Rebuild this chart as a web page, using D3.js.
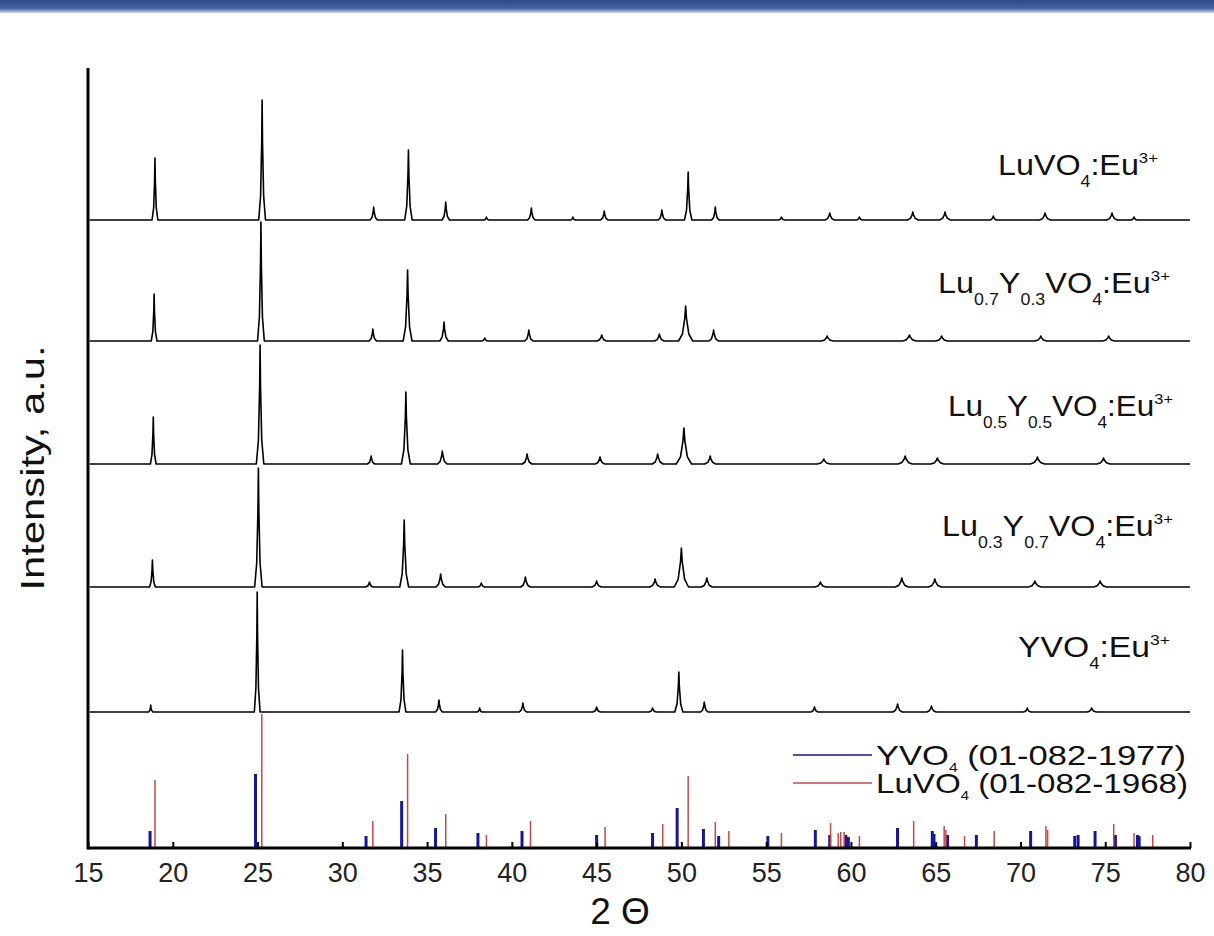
<!DOCTYPE html>
<html>
<head>
<meta charset="utf-8">
<script src="https://cdn.jsdelivr.net/npm/d3@7/dist/d3.min.js"></script>
<style>
  html, body { margin: 0; padding: 0; background: #fff; }
  svg { display: block; font-family: "Liberation Sans", Arial, sans-serif; }
</style>
</head>
<body>
<svg id="chart" width="1214" height="936"></svg>
<script>
// ---------------- data ----------------
const xTicks = [15, 20, 25, 30, 35, 40, 45, 50, 55, 60, 65, 70, 75, 80];
const xLabel = "2 \u0398";
const yLabel = "Intensity, a.u.";

// sample names (parts: [text, kind]) kind: n normal, sub, sup
const sampleLabels = [
  [["LuVO", "n"], ["4", "sub"], [":Eu", "n"], ["3+", "sup"]],
  [["Lu", "n"], ["0.7", "sub"], ["Y", "n"], ["0.3", "sub"], ["VO", "n"], ["4", "sub"], [":Eu", "n"], ["3+", "sup"]],
  [["Lu", "n"], ["0.5", "sub"], ["Y", "n"], ["0.5", "sub"], ["VO", "n"], ["4", "sub"], [":Eu", "n"], ["3+", "sup"]],
  [["Lu", "n"], ["0.3", "sub"], ["Y", "n"], ["0.7", "sub"], ["VO", "n"], ["4", "sub"], [":Eu", "n"], ["3+", "sup"]],
  [["YVO", "n"], ["4", "sub"], [":Eu", "n"], ["3+", "sup"]]
];
// vertical offsets of each pattern (a.u.)
const sampleOffsets = [628, 507, 384, 261, 136];

// peaks: [2theta, intensity, half base width]
const peaksLuVO4 = [
  [18.95, 62, 0.17], [25.27, 120, 0.2], [31.85, 13, 0.22], [33.9, 70, 0.22], [36.1, 18, 0.22],
  [38.5, 3, 0.15], [41.15, 12, 0.22], [43.6, 3, 0.15], [45.45, 9, 0.22], [48.85, 10, 0.22],
  [50.4, 48, 0.22], [52.0, 13, 0.22], [55.9, 3, 0.2], [58.75, 7, 0.28], [60.5, 3, 0.2],
  [63.65, 8, 0.32], [65.55, 8, 0.32], [68.4, 4, 0.2], [71.45, 7, 0.32], [75.4, 7, 0.32], [76.7, 3, 0.2]
];
const peaksLu07 = [
  [18.9, 47, 0.17], [25.2, 119, 0.2], [31.8, 12, 0.22], [33.85, 71, 0.26], [36.0, 19, 0.25],
  [38.4, 3, 0.2], [41.0, 11, 0.25], [45.3, 6, 0.28], [48.7, 7, 0.28], [50.25, 35, 0.42],
  [51.9, 11, 0.28], [58.6, 5, 0.35], [63.45, 6, 0.4], [65.35, 5, 0.35], [71.2, 5, 0.35], [75.2, 5, 0.35]
];
const peaksLu05 = [
  [18.85, 47, 0.17], [25.15, 119, 0.22], [31.7, 8, 0.22], [33.75, 72, 0.26], [35.9, 13, 0.28],
  [40.9, 10, 0.28], [45.2, 7, 0.28], [48.6, 10, 0.32], [50.15, 36, 0.45], [51.7, 8, 0.32],
  [58.4, 5, 0.38], [63.2, 8, 0.42], [65.1, 6, 0.38], [71.0, 7, 0.42], [74.9, 6, 0.38]
];
const peaksLu03 = [
  [18.8, 27, 0.17], [25.05, 119, 0.22], [31.6, 5, 0.22], [33.65, 67, 0.26], [35.8, 13, 0.28],
  [38.2, 4, 0.2], [40.8, 10, 0.28], [45.0, 6, 0.28], [48.45, 8, 0.32], [50.0, 39, 0.42],
  [51.5, 9, 0.32], [58.2, 5, 0.32], [63.0, 9, 0.38], [64.95, 8, 0.38], [70.85, 6, 0.38], [74.7, 6, 0.38]
];
const peaksYVO4 = [
  [18.7, 7, 0.13], [24.98, 120, 0.17], [33.55, 62, 0.2], [35.7, 12, 0.2], [38.1, 4, 0.15],
  [40.65, 9, 0.22], [45.0, 5, 0.22], [48.3, 4, 0.22], [49.85, 40, 0.24], [51.35, 10, 0.22],
  [57.85, 5, 0.22], [62.75, 8, 0.28], [64.75, 6, 0.28], [70.4, 4, 0.22], [74.2, 4, 0.28]
];
const samplePeaks = [peaksLuVO4, peaksLu07, peaksLu05, peaksLu03, peaksYVO4];

// reference patterns (stick positions / intensities)
const refYVO4Pos = [18.66, 24.88, 31.4, 33.5, 35.5, 38.0, 40.6, 45.0, 48.3, 49.75, 51.3, 52.2, 55.1, 57.9, 58.75, 59.7, 59.85, 62.75, 64.8, 64.9, 65.7, 67.4, 70.6, 73.2, 73.4, 74.4, 75.6, 76.9, 77.0];
const refYVO4Int = [17, 74, 12, 47, 20, 15, 17, 13, 15, 40, 19, 12, 12, 18, 13, 13, 11, 20, 17, 14, 13, 13, 17, 12, 13, 17, 13, 13, 12];
const refLuVO4Pos = [18.95, 25.25, 31.8, 33.85, 36.1, 38.5, 41.1, 45.5, 48.9, 50.4, 52.0, 52.8, 55.9, 58.8, 59.25, 59.4, 59.6, 60.5, 63.7, 65.5, 65.6, 66.7, 68.45, 71.5, 71.6, 75.5, 76.7, 77.8];
const refLuVO4Int = [68, 134, 27, 94, 34, 13, 27, 21, 24, 72, 26, 17, 15, 25, 15, 16, 16, 12, 27, 22, 18, 12, 17, 22, 18, 24, 15, 13];
const legendLabels = [
  [["YVO", "n"], ["4", "sub"], [" (01-082-1977)", "n"]],
  [["LuVO", "n"], ["4", "sub"], [" (01-082-1968)", "n"]]
];
const refColors = ["#16169a", "#c8484a"];

// ---------------- drawing ----------------
const svg = d3.select("#chart");
const W = 1214, H = 936;
const plot = { left: 88, right: 1190, top: 68, bottom: 848 };

const x = d3.scaleLinear().domain([15, 80]).range([plot.left, plot.right]);
const y = d3.scaleLinear().domain([0, 780]).range([plot.bottom, plot.top]);

// top banner
const defs = svg.append("defs");
const grad = defs.append("linearGradient").attr("id", "banner").attr("x1", 0).attr("x2", 0).attr("y1", 0).attr("y2", 1);
grad.append("stop").attr("offset", "0%").attr("stop-color", "#2f4b87");
grad.append("stop").attr("offset", "65%").attr("stop-color", "#4864a0");
grad.append("stop").attr("offset", "100%").attr("stop-color", "#d2dbea");
svg.append("rect").attr("x", 0).attr("y", 0).attr("width", W).attr("height", 13).attr("fill", "url(#banner)");

// reference sticks
const refSets = [
  { pos: refYVO4Pos, int: refYVO4Int, color: refColors[0], w: 3 },
  { pos: refLuVO4Pos, int: refLuVO4Int, color: refColors[1], w: 1.5 }
];
refSets.forEach(s => {
  svg.append("g").selectAll("line").data(s.pos.map((p, i) => [p, s.int[i]])).join("line")
    .attr("x1", d => x(d[0])).attr("x2", d => x(d[0]))
    .attr("y1", y(0)).attr("y2", d => y(d[1]))
    .attr("stroke", s.color).attr("stroke-width", s.w);
});

// sample patterns: each peak drawn as a peak profile outline
const line = d3.line().x(d => x(d[0])).y(d => y(d[1]));
samplePeaks.forEach((peaks, i) => {
  const off = sampleOffsets[i];
  const pts = [[15.1, off]];
  peaks.forEach(([p, h, w]) => {
    pts.push([p - w, off], [p - w * 0.45, off + h * 0.2], [p - w * 0.12, off + h * 0.65],
             [p, off + h], [p + w * 0.12, off + h * 0.65], [p + w * 0.45, off + h * 0.2], [p + w, off]);
  });
  pts.push([80, off]);
  svg.append("path").attr("d", line(pts)).attr("fill", "none")
    .attr("stroke", "#000").attr("stroke-width", 1.6).attr("stroke-linejoin", "round");
});

// rich text helper (sub/superscripts through dy shifts)
function richText(g, parts, size, subScale, subShift) {
  const t = g.append("text").attr("font-size", size).attr("fill", "#111");
  let cur = 0;
  parts.forEach(([txt, kind]) => {
    let target = 0, fs = size;
    if (kind === "sub") { target = size * subShift; fs = size * subScale; }
    if (kind === "sup") { target = -size * 0.42; fs = size * 0.52; }
    t.append("tspan").attr("font-size", fs).attr("dy", target - cur).text(txt);
    cur = target;
  });
  return t;
}

// sample labels (matched widths)
const labelLeft = [998, 938, 948, 942, 1018];
const labelWidth = [160, 232, 225, 231, 152];
const labelBase = [175, 293, 416, 536, 657];
sampleLabels.forEach((parts, i) => {
  const g = svg.append("g");
  const t = richText(g, parts, 29, 0.55, 0.42);
  t.attr("x", labelLeft[i]).attr("y", labelBase[i])
   .attr("textLength", labelWidth[i]).attr("lengthAdjust", "spacingAndGlyphs");
});

// legend
const legendWidth = [310, 312];
legendLabels.forEach((parts, i) => {
  const yy = 755 + i * 28;
  svg.append("line").attr("x1", 793).attr("x2", 872).attr("y1", yy).attr("y2", yy)
    .attr("stroke", refColors[i]).attr("stroke-width", 1.6);
  const g = svg.append("g");
  const t = richText(g, parts, 28, 0.45, 0.25);
  t.attr("x", 876).attr("y", yy + 10)
   .attr("textLength", legendWidth[i]).attr("lengthAdjust", "spacingAndGlyphs");
});

// axes
const xAxis = d3.axisBottom(x).tickValues(xTicks).tickSizeInner(-6).tickSizeOuter(0).tickPadding(15);
const gx = svg.append("g").attr("transform", `translate(0,${plot.bottom})`).call(xAxis);
gx.attr("font-size", 27).attr("font-family", "Liberation Sans, Arial, sans-serif");
gx.select(".domain").remove();
gx.selectAll(".tick line").attr("stroke", "#000").attr("stroke-width", 2);
gx.selectAll(".tick text").attr("font-size", 27).attr("fill", "#222");

svg.append("line").attr("x1", plot.left).attr("x2", plot.right + 1).attr("y1", plot.bottom).attr("y2", plot.bottom)
  .attr("stroke", "#000").attr("stroke-width", 3);
svg.append("line").attr("x1", plot.left).attr("x2", plot.left).attr("y1", plot.top).attr("y2", plot.bottom + 1.5)
  .attr("stroke", "#000").attr("stroke-width", 3);

// axis titles
svg.append("text").attr("x", 620).attr("y", 924).attr("text-anchor", "middle")
  .attr("font-size", 37).attr("fill", "#111").text(xLabel);
svg.append("text").attr("transform", "translate(44,468) rotate(-90)").attr("text-anchor", "middle")
  .attr("font-size", 33).attr("fill", "#111").attr("textLength", 245).attr("lengthAdjust", "spacingAndGlyphs")
  .text(yLabel);
</script>
</body>
</html>
